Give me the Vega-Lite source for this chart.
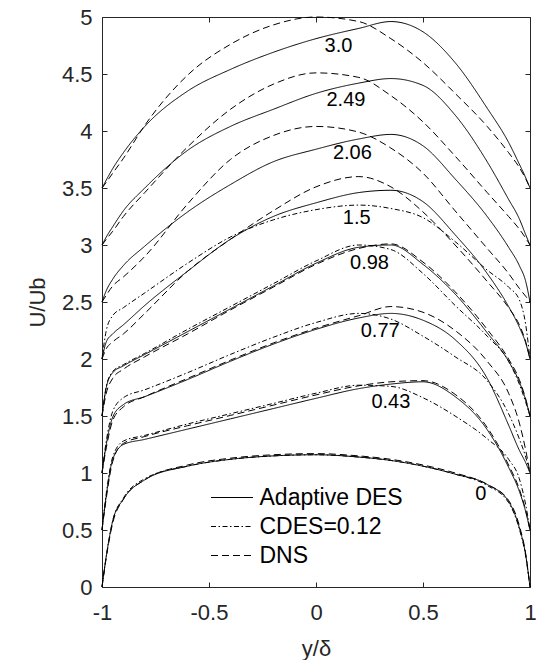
{
"$schema":"https://vega.github.io/schema/vega-lite/v6.json",
"autosize":{"type":"none"},
"width":428,"height":570,
"padding":{"left":102,"top":17,"right":10,"bottom":73},
"config":{"font":"Liberation Sans","view":{"stroke":"#262626","strokeWidth":1},
"axis":{"domainColor":"#262626","tickColor":"#262626","tickWidth":1,"labelColor":"#262626","titleColor":"#262626","labelFontSize":22,"titleFontSize":22,"titleFontWeight":"normal","grid":false,"tickSize":5,"offset":-5,"domain":false,"labelFlush":false,"labelOverlap":false,"labelFont":"Liberation Sans","titleFont":"Liberation Sans"}},
"datasets":{
"labels":[{"t":"3.0","x":0.105,"y":4.75},{"t":"2.49","x":0.14,"y":4.27},{"t":"2.06","x":0.17,"y":3.81},{"t":"1.5","x":0.19,"y":3.24},{"t":"0.98","x":0.25,"y":2.84},{"t":"0.77","x":0.3,"y":2.25},{"t":"0.43","x":0.35,"y":1.62},{"t":"0","x":0.77,"y":0.82}],
"curves":[
{"p":"0","m":"A","x":-1,"y":0},{"p":"0","m":"A","x":-0.98,"y":0.27},{"p":"0","m":"A","x":-0.95,"y":0.58},{"p":"0","m":"A","x":-0.9,"y":0.77},{"p":"0","m":"A","x":-0.8,"y":0.94},{"p":"0","m":"A","x":-0.6,"y":1.06},{"p":"0","m":"A","x":-0.4,"y":1.12},{"p":"0","m":"A","x":-0.2,"y":1.15},{"p":"0","m":"A","x":0,"y":1.16},{"p":"0","m":"A","x":0.2,"y":1.14},{"p":"0","m":"A","x":0.35,"y":1.11},{"p":"0","m":"A","x":0.5,"y":1.06},{"p":"0","m":"A","x":0.65,"y":0.99},{"p":"0","m":"A","x":0.8,"y":0.9},{"p":"0","m":"A","x":0.9,"y":0.75},{"p":"0","m":"A","x":0.95,"y":0.52},{"p":"0","m":"A","x":0.98,"y":0.28},{"p":"0","m":"A","x":1,"y":0},
{"p":"0","m":"D","x":-1,"y":0},{"p":"0","m":"D","x":-0.98,"y":0.26},{"p":"0","m":"D","x":-0.95,"y":0.56},{"p":"0","m":"D","x":-0.9,"y":0.77},{"p":"0","m":"D","x":-0.8,"y":0.94},{"p":"0","m":"D","x":-0.6,"y":1.07},{"p":"0","m":"D","x":-0.4,"y":1.13},{"p":"0","m":"D","x":-0.2,"y":1.16},{"p":"0","m":"D","x":0,"y":1.17},{"p":"0","m":"D","x":0.2,"y":1.15},{"p":"0","m":"D","x":0.35,"y":1.12},{"p":"0","m":"D","x":0.5,"y":1.07},{"p":"0","m":"D","x":0.65,"y":1.0},{"p":"0","m":"D","x":0.8,"y":0.9},{"p":"0","m":"D","x":0.9,"y":0.76},{"p":"0","m":"D","x":0.95,"y":0.54},{"p":"0","m":"D","x":0.98,"y":0.29},{"p":"0","m":"D","x":1,"y":0},
{"p":"0","m":"C","x":-1,"y":0},{"p":"0","m":"C","x":-0.98,"y":0.27},{"p":"0","m":"C","x":-0.95,"y":0.58},{"p":"0","m":"C","x":-0.9,"y":0.78},{"p":"0","m":"C","x":-0.8,"y":0.95},{"p":"0","m":"C","x":-0.6,"y":1.06},{"p":"0","m":"C","x":-0.4,"y":1.12},{"p":"0","m":"C","x":-0.2,"y":1.15},{"p":"0","m":"C","x":0,"y":1.16},{"p":"0","m":"C","x":0.2,"y":1.14},{"p":"0","m":"C","x":0.35,"y":1.11},{"p":"0","m":"C","x":0.5,"y":1.06},{"p":"0","m":"C","x":0.65,"y":0.99},{"p":"0","m":"C","x":0.8,"y":0.89},{"p":"0","m":"C","x":0.9,"y":0.74},{"p":"0","m":"C","x":0.95,"y":0.51},{"p":"0","m":"C","x":0.98,"y":0.27},{"p":"0","m":"C","x":1,"y":0},
{"p":"0.43","m":"A","x":-1,"y":0.5},{"p":"0.43","m":"A","x":-0.98,"y":0.8},{"p":"0.43","m":"A","x":-0.95,"y":1.12},{"p":"0.43","m":"A","x":-0.9,"y":1.25},{"p":"0.43","m":"A","x":-0.8,"y":1.295},{"p":"0.43","m":"A","x":-0.6,"y":1.385},{"p":"0.43","m":"A","x":-0.4,"y":1.475},{"p":"0.43","m":"A","x":-0.2,"y":1.565},{"p":"0.43","m":"A","x":0,"y":1.655},{"p":"0.43","m":"A","x":0.2,"y":1.74},{"p":"0.43","m":"A","x":0.35,"y":1.78},{"p":"0.43","m":"A","x":0.5,"y":1.8},{"p":"0.43","m":"A","x":0.65,"y":1.67},{"p":"0.43","m":"A","x":0.8,"y":1.38},{"p":"0.43","m":"A","x":0.9,"y":1.05},{"p":"0.43","m":"A","x":0.95,"y":0.84},{"p":"0.43","m":"A","x":0.98,"y":0.66},{"p":"0.43","m":"A","x":1,"y":0.5},
{"p":"0.43","m":"D","x":-1,"y":0.5},{"p":"0.43","m":"D","x":-0.98,"y":0.78},{"p":"0.43","m":"D","x":-0.95,"y":1.1},{"p":"0.43","m":"D","x":-0.9,"y":1.26},{"p":"0.43","m":"D","x":-0.8,"y":1.32},{"p":"0.43","m":"D","x":-0.6,"y":1.415},{"p":"0.43","m":"D","x":-0.4,"y":1.505},{"p":"0.43","m":"D","x":-0.2,"y":1.595},{"p":"0.43","m":"D","x":0,"y":1.685},{"p":"0.43","m":"D","x":0.2,"y":1.765},{"p":"0.43","m":"D","x":0.35,"y":1.8},{"p":"0.43","m":"D","x":0.5,"y":1.81},{"p":"0.43","m":"D","x":0.65,"y":1.69},{"p":"0.43","m":"D","x":0.8,"y":1.4},{"p":"0.43","m":"D","x":0.9,"y":1.07},{"p":"0.43","m":"D","x":0.95,"y":0.86},{"p":"0.43","m":"D","x":0.98,"y":0.67},{"p":"0.43","m":"D","x":1,"y":0.5},
{"p":"0.43","m":"C","x":-1,"y":0.5},{"p":"0.43","m":"C","x":-0.98,"y":0.82},{"p":"0.43","m":"C","x":-0.95,"y":1.14},{"p":"0.43","m":"C","x":-0.9,"y":1.28},{"p":"0.43","m":"C","x":-0.8,"y":1.33},{"p":"0.43","m":"C","x":-0.6,"y":1.43},{"p":"0.43","m":"C","x":-0.4,"y":1.52},{"p":"0.43","m":"C","x":-0.2,"y":1.61},{"p":"0.43","m":"C","x":0,"y":1.7},{"p":"0.43","m":"C","x":0.2,"y":1.77},{"p":"0.43","m":"C","x":0.35,"y":1.76},{"p":"0.43","m":"C","x":0.5,"y":1.66},{"p":"0.43","m":"C","x":0.65,"y":1.5},{"p":"0.43","m":"C","x":0.8,"y":1.3},{"p":"0.43","m":"C","x":0.9,"y":1.12},{"p":"0.43","m":"C","x":0.95,"y":0.95},{"p":"0.43","m":"C","x":0.98,"y":0.72},{"p":"0.43","m":"C","x":1,"y":0.5},
{"p":"0.77","m":"A","x":-1,"y":1.0},{"p":"0.77","m":"A","x":-0.98,"y":1.25},{"p":"0.77","m":"A","x":-0.95,"y":1.49},{"p":"0.77","m":"A","x":-0.9,"y":1.6},{"p":"0.77","m":"A","x":-0.8,"y":1.67},{"p":"0.77","m":"A","x":-0.6,"y":1.82},{"p":"0.77","m":"A","x":-0.4,"y":1.98},{"p":"0.77","m":"A","x":-0.2,"y":2.13},{"p":"0.77","m":"A","x":0,"y":2.26},{"p":"0.77","m":"A","x":0.2,"y":2.36},{"p":"0.77","m":"A","x":0.35,"y":2.4},{"p":"0.77","m":"A","x":0.5,"y":2.34},{"p":"0.77","m":"A","x":0.65,"y":2.17},{"p":"0.77","m":"A","x":0.8,"y":1.83},{"p":"0.77","m":"A","x":0.9,"y":1.42},{"p":"0.77","m":"A","x":0.95,"y":1.2},{"p":"0.77","m":"A","x":0.98,"y":1.09},{"p":"0.77","m":"A","x":1,"y":1.0},
{"p":"0.77","m":"D","x":-1,"y":1.0},{"p":"0.77","m":"D","x":-0.98,"y":1.22},{"p":"0.77","m":"D","x":-0.95,"y":1.46},{"p":"0.77","m":"D","x":-0.9,"y":1.58},{"p":"0.77","m":"D","x":-0.8,"y":1.67},{"p":"0.77","m":"D","x":-0.6,"y":1.83},{"p":"0.77","m":"D","x":-0.4,"y":1.99},{"p":"0.77","m":"D","x":-0.2,"y":2.14},{"p":"0.77","m":"D","x":0,"y":2.27},{"p":"0.77","m":"D","x":0.2,"y":2.38},{"p":"0.77","m":"D","x":0.35,"y":2.46},{"p":"0.77","m":"D","x":0.5,"y":2.41},{"p":"0.77","m":"D","x":0.65,"y":2.25},{"p":"0.77","m":"D","x":0.8,"y":1.98},{"p":"0.77","m":"D","x":0.9,"y":1.7},{"p":"0.77","m":"D","x":0.95,"y":1.44},{"p":"0.77","m":"D","x":0.98,"y":1.2},{"p":"0.77","m":"D","x":1,"y":1.0},
{"p":"0.77","m":"C","x":-1,"y":1.0},{"p":"0.77","m":"C","x":-0.98,"y":1.28},{"p":"0.77","m":"C","x":-0.95,"y":1.54},{"p":"0.77","m":"C","x":-0.9,"y":1.66},{"p":"0.77","m":"C","x":-0.8,"y":1.73},{"p":"0.77","m":"C","x":-0.6,"y":1.88},{"p":"0.77","m":"C","x":-0.4,"y":2.04},{"p":"0.77","m":"C","x":-0.2,"y":2.19},{"p":"0.77","m":"C","x":0,"y":2.32},{"p":"0.77","m":"C","x":0.2,"y":2.4},{"p":"0.77","m":"C","x":0.35,"y":2.35},{"p":"0.77","m":"C","x":0.5,"y":2.2},{"p":"0.77","m":"C","x":0.65,"y":2.02},{"p":"0.77","m":"C","x":0.8,"y":1.81},{"p":"0.77","m":"C","x":0.9,"y":1.52},{"p":"0.77","m":"C","x":0.95,"y":1.3},{"p":"0.77","m":"C","x":0.98,"y":1.14},{"p":"0.77","m":"C","x":1,"y":1.0},
{"p":"0.98","m":"A","x":-1,"y":1.5},{"p":"0.98","m":"A","x":-0.98,"y":1.75},{"p":"0.98","m":"A","x":-0.95,"y":1.88},{"p":"0.98","m":"A","x":-0.9,"y":1.94},{"p":"0.98","m":"A","x":-0.8,"y":2.04},{"p":"0.98","m":"A","x":-0.6,"y":2.24},{"p":"0.98","m":"A","x":-0.4,"y":2.44},{"p":"0.98","m":"A","x":-0.2,"y":2.64},{"p":"0.98","m":"A","x":0,"y":2.84},{"p":"0.98","m":"A","x":0.2,"y":2.98},{"p":"0.98","m":"A","x":0.35,"y":3.0},{"p":"0.98","m":"A","x":0.5,"y":2.83},{"p":"0.98","m":"A","x":0.65,"y":2.57},{"p":"0.98","m":"A","x":0.8,"y":2.23},{"p":"0.98","m":"A","x":0.9,"y":1.98},{"p":"0.98","m":"A","x":0.95,"y":1.8},{"p":"0.98","m":"A","x":0.98,"y":1.64},{"p":"0.98","m":"A","x":1,"y":1.5},
{"p":"0.98","m":"D","x":-1,"y":1.5},{"p":"0.98","m":"D","x":-0.98,"y":1.7},{"p":"0.98","m":"D","x":-0.95,"y":1.83},{"p":"0.98","m":"D","x":-0.9,"y":1.91},{"p":"0.98","m":"D","x":-0.8,"y":2.02},{"p":"0.98","m":"D","x":-0.6,"y":2.22},{"p":"0.98","m":"D","x":-0.4,"y":2.43},{"p":"0.98","m":"D","x":-0.2,"y":2.63},{"p":"0.98","m":"D","x":0,"y":2.83},{"p":"0.98","m":"D","x":0.2,"y":2.97},{"p":"0.98","m":"D","x":0.35,"y":3.01},{"p":"0.98","m":"D","x":0.5,"y":2.85},{"p":"0.98","m":"D","x":0.65,"y":2.59},{"p":"0.98","m":"D","x":0.8,"y":2.26},{"p":"0.98","m":"D","x":0.9,"y":2.0},{"p":"0.98","m":"D","x":0.95,"y":1.82},{"p":"0.98","m":"D","x":0.98,"y":1.65},{"p":"0.98","m":"D","x":1,"y":1.5},
{"p":"0.98","m":"C","x":-1,"y":1.5},{"p":"0.98","m":"C","x":-0.98,"y":1.76},{"p":"0.98","m":"C","x":-0.95,"y":1.89},{"p":"0.98","m":"C","x":-0.9,"y":1.95},{"p":"0.98","m":"C","x":-0.8,"y":2.05},{"p":"0.98","m":"C","x":-0.6,"y":2.26},{"p":"0.98","m":"C","x":-0.4,"y":2.46},{"p":"0.98","m":"C","x":-0.2,"y":2.66},{"p":"0.98","m":"C","x":0,"y":2.86},{"p":"0.98","m":"C","x":0.2,"y":3.0},{"p":"0.98","m":"C","x":0.35,"y":2.96},{"p":"0.98","m":"C","x":0.5,"y":2.75},{"p":"0.98","m":"C","x":0.65,"y":2.47},{"p":"0.98","m":"C","x":0.8,"y":2.2},{"p":"0.98","m":"C","x":0.9,"y":1.98},{"p":"0.98","m":"C","x":0.95,"y":1.78},{"p":"0.98","m":"C","x":0.98,"y":1.62},{"p":"0.98","m":"C","x":1,"y":1.5},
{"p":"1.5","m":"A","x":-1,"y":2.0},{"p":"1.5","m":"A","x":-0.98,"y":2.15},{"p":"1.5","m":"A","x":-0.95,"y":2.22},{"p":"1.5","m":"A","x":-0.9,"y":2.3},{"p":"1.5","m":"A","x":-0.8,"y":2.47},{"p":"1.5","m":"A","x":-0.6,"y":2.77},{"p":"1.5","m":"A","x":-0.4,"y":3.05},{"p":"1.5","m":"A","x":-0.2,"y":3.25},{"p":"1.5","m":"A","x":0,"y":3.37},{"p":"1.5","m":"A","x":0.2,"y":3.46},{"p":"1.5","m":"A","x":0.35,"y":3.48},{"p":"1.5","m":"A","x":0.5,"y":3.38},{"p":"1.5","m":"A","x":0.65,"y":3.09},{"p":"1.5","m":"A","x":0.8,"y":2.75},{"p":"1.5","m":"A","x":0.9,"y":2.46},{"p":"1.5","m":"A","x":0.95,"y":2.28},{"p":"1.5","m":"A","x":0.98,"y":2.14},{"p":"1.5","m":"A","x":1,"y":2.0},
{"p":"1.5","m":"D","x":-1,"y":2.0},{"p":"1.5","m":"D","x":-0.98,"y":2.09},{"p":"1.5","m":"D","x":-0.95,"y":2.15},{"p":"1.5","m":"D","x":-0.9,"y":2.22},{"p":"1.5","m":"D","x":-0.8,"y":2.4},{"p":"1.5","m":"D","x":-0.6,"y":2.77},{"p":"1.5","m":"D","x":-0.4,"y":3.05},{"p":"1.5","m":"D","x":-0.2,"y":3.3},{"p":"1.5","m":"D","x":0,"y":3.51},{"p":"1.5","m":"D","x":0.2,"y":3.6},{"p":"1.5","m":"D","x":0.35,"y":3.51},{"p":"1.5","m":"D","x":0.5,"y":3.29},{"p":"1.5","m":"D","x":0.65,"y":3.0},{"p":"1.5","m":"D","x":0.8,"y":2.68},{"p":"1.5","m":"D","x":0.9,"y":2.45},{"p":"1.5","m":"D","x":0.95,"y":2.3},{"p":"1.5","m":"D","x":0.98,"y":2.15},{"p":"1.5","m":"D","x":1,"y":2.0},
{"p":"1.5","m":"C","x":-1,"y":2.0},{"p":"1.5","m":"C","x":-0.98,"y":2.25},{"p":"1.5","m":"C","x":-0.95,"y":2.38},{"p":"1.5","m":"C","x":-0.9,"y":2.45},{"p":"1.5","m":"C","x":-0.8,"y":2.58},{"p":"1.5","m":"C","x":-0.6,"y":2.84},{"p":"1.5","m":"C","x":-0.4,"y":3.07},{"p":"1.5","m":"C","x":-0.2,"y":3.22},{"p":"1.5","m":"C","x":0,"y":3.31},{"p":"1.5","m":"C","x":0.2,"y":3.35},{"p":"1.5","m":"C","x":0.35,"y":3.32},{"p":"1.5","m":"C","x":0.5,"y":3.24},{"p":"1.5","m":"C","x":0.65,"y":3.03},{"p":"1.5","m":"C","x":0.8,"y":2.78},{"p":"1.5","m":"C","x":0.9,"y":2.63},{"p":"1.5","m":"C","x":0.95,"y":2.52},{"p":"1.5","m":"C","x":0.98,"y":2.3},{"p":"1.5","m":"C","x":1,"y":2.0},
{"p":"2.06","m":"A","x":-1,"y":2.5},{"p":"2.06","m":"A","x":-0.98,"y":2.6},{"p":"2.06","m":"A","x":-0.95,"y":2.7},{"p":"2.06","m":"A","x":-0.9,"y":2.82},{"p":"2.06","m":"A","x":-0.8,"y":2.99},{"p":"2.06","m":"A","x":-0.6,"y":3.29},{"p":"2.06","m":"A","x":-0.4,"y":3.53},{"p":"2.06","m":"A","x":-0.2,"y":3.73},{"p":"2.06","m":"A","x":0,"y":3.84},{"p":"2.06","m":"A","x":0.2,"y":3.93},{"p":"2.06","m":"A","x":0.35,"y":3.97},{"p":"2.06","m":"A","x":0.5,"y":3.87},{"p":"2.06","m":"A","x":0.65,"y":3.58},{"p":"2.06","m":"A","x":0.8,"y":3.25},{"p":"2.06","m":"A","x":0.9,"y":2.98},{"p":"2.06","m":"A","x":0.95,"y":2.82},{"p":"2.06","m":"A","x":0.98,"y":2.68},{"p":"2.06","m":"A","x":1,"y":2.5},
{"p":"2.06","m":"D","x":-1,"y":2.5},{"p":"2.06","m":"D","x":-0.98,"y":2.56},{"p":"2.06","m":"D","x":-0.95,"y":2.64},{"p":"2.06","m":"D","x":-0.9,"y":2.72},{"p":"2.06","m":"D","x":-0.8,"y":2.9},{"p":"2.06","m":"D","x":-0.6,"y":3.36},{"p":"2.06","m":"D","x":-0.4,"y":3.75},{"p":"2.06","m":"D","x":-0.2,"y":3.96},{"p":"2.06","m":"D","x":0,"y":4.04},{"p":"2.06","m":"D","x":0.2,"y":3.99},{"p":"2.06","m":"D","x":0.35,"y":3.85},{"p":"2.06","m":"D","x":0.5,"y":3.63},{"p":"2.06","m":"D","x":0.65,"y":3.3},{"p":"2.06","m":"D","x":0.8,"y":2.97},{"p":"2.06","m":"D","x":0.9,"y":2.75},{"p":"2.06","m":"D","x":0.95,"y":2.62},{"p":"2.06","m":"D","x":0.98,"y":2.55},{"p":"2.06","m":"D","x":1,"y":2.5},
{"p":"2.49","m":"A","x":-1,"y":3.0},{"p":"2.49","m":"A","x":-0.98,"y":3.07},{"p":"2.49","m":"A","x":-0.95,"y":3.16},{"p":"2.49","m":"A","x":-0.9,"y":3.3},{"p":"2.49","m":"A","x":-0.8,"y":3.5},{"p":"2.49","m":"A","x":-0.6,"y":3.83},{"p":"2.49","m":"A","x":-0.4,"y":4.04},{"p":"2.49","m":"A","x":-0.2,"y":4.19},{"p":"2.49","m":"A","x":0,"y":4.33},{"p":"2.49","m":"A","x":0.2,"y":4.42},{"p":"2.49","m":"A","x":0.35,"y":4.46},{"p":"2.49","m":"A","x":0.5,"y":4.4},{"p":"2.49","m":"A","x":0.65,"y":4.14},{"p":"2.49","m":"A","x":0.8,"y":3.73},{"p":"2.49","m":"A","x":0.9,"y":3.4},{"p":"2.49","m":"A","x":0.95,"y":3.23},{"p":"2.49","m":"A","x":0.98,"y":3.09},{"p":"2.49","m":"A","x":1,"y":3.0},
{"p":"2.49","m":"D","x":-1,"y":3.0},{"p":"2.49","m":"D","x":-0.98,"y":3.05},{"p":"2.49","m":"D","x":-0.95,"y":3.12},{"p":"2.49","m":"D","x":-0.9,"y":3.25},{"p":"2.49","m":"D","x":-0.8,"y":3.46},{"p":"2.49","m":"D","x":-0.6,"y":3.86},{"p":"2.49","m":"D","x":-0.4,"y":4.19},{"p":"2.49","m":"D","x":-0.2,"y":4.41},{"p":"2.49","m":"D","x":0,"y":4.51},{"p":"2.49","m":"D","x":0.2,"y":4.47},{"p":"2.49","m":"D","x":0.35,"y":4.31},{"p":"2.49","m":"D","x":0.5,"y":4.08},{"p":"2.49","m":"D","x":0.65,"y":3.78},{"p":"2.49","m":"D","x":0.8,"y":3.46},{"p":"2.49","m":"D","x":0.9,"y":3.25},{"p":"2.49","m":"D","x":0.95,"y":3.14},{"p":"2.49","m":"D","x":0.98,"y":3.06},{"p":"2.49","m":"D","x":1,"y":3.0},
{"p":"3.0","m":"A","x":-1,"y":3.5},{"p":"3.0","m":"A","x":-0.98,"y":3.57},{"p":"3.0","m":"A","x":-0.95,"y":3.67},{"p":"3.0","m":"A","x":-0.9,"y":3.81},{"p":"3.0","m":"A","x":-0.8,"y":4.04},{"p":"3.0","m":"A","x":-0.6,"y":4.35},{"p":"3.0","m":"A","x":-0.4,"y":4.54},{"p":"3.0","m":"A","x":-0.2,"y":4.69},{"p":"3.0","m":"A","x":0,"y":4.81},{"p":"3.0","m":"A","x":0.2,"y":4.9},{"p":"3.0","m":"A","x":0.35,"y":4.96},{"p":"3.0","m":"A","x":0.5,"y":4.87},{"p":"3.0","m":"A","x":0.65,"y":4.6},{"p":"3.0","m":"A","x":0.8,"y":4.2},{"p":"3.0","m":"A","x":0.9,"y":3.9},{"p":"3.0","m":"A","x":0.95,"y":3.71},{"p":"3.0","m":"A","x":0.98,"y":3.59},{"p":"3.0","m":"A","x":1,"y":3.5},
{"p":"3.0","m":"D","x":-1,"y":3.5},{"p":"3.0","m":"D","x":-0.98,"y":3.55},{"p":"3.0","m":"D","x":-0.95,"y":3.63},{"p":"3.0","m":"D","x":-0.9,"y":3.76},{"p":"3.0","m":"D","x":-0.8,"y":4.05},{"p":"3.0","m":"D","x":-0.6,"y":4.49},{"p":"3.0","m":"D","x":-0.4,"y":4.76},{"p":"3.0","m":"D","x":-0.2,"y":4.93},{"p":"3.0","m":"D","x":0,"y":5.0},{"p":"3.0","m":"D","x":0.2,"y":4.96},{"p":"3.0","m":"D","x":0.35,"y":4.81},{"p":"3.0","m":"D","x":0.5,"y":4.6},{"p":"3.0","m":"D","x":0.65,"y":4.33},{"p":"3.0","m":"D","x":0.8,"y":4.04},{"p":"3.0","m":"D","x":0.9,"y":3.81},{"p":"3.0","m":"D","x":0.95,"y":3.68},{"p":"3.0","m":"D","x":0.98,"y":3.58},{"p":"3.0","m":"D","x":1,"y":3.5}
]},
"layer":[
{"data":{"name":"curves"},
"mark":{"type":"line","interpolate":"monotone","strokeWidth":1,"color":"black"},
"encoding":{
"x":{"field":"x","type":"quantitative","scale":{"domain":[-1,1]},"axis":{"orient":"bottom","values":[-1,-0.5,0,0.5,1],"labelExpr":"'' + datum.value","title":"y/δ","labelPadding":15,"titlePadding":15}},
"y":{"field":"y","type":"quantitative","scale":{"domain":[0,5]},"axis":{"orient":"left","values":[0,0.5,1,1.5,2,2.5,3,3.5,4,4.5,5],"labelExpr":"'' + datum.value","title":"U/Ub","labelPadding":10,"titlePadding":12}},
"detail":{"field":"p","type":"nominal"},
"strokeDash":{"field":"m","type":"nominal","scale":{"domain":["A","C","D"],"range":[[1,0],[5,2.5,1.5,2.5],[7,4]]},
"legend":{"orient":"none","legendX":118.5,"legendY":469,"title":null,"symbolType":"M-2,0H2","symbolSize":441,"symbolStrokeWidth":1,"symbolStrokeColor":"black","symbolFillColor":"transparent","labelFontSize":23,"labelColor":"black","labelFont":"Liberation Sans","rowPadding":5,"labelOffset":16,"labelExpr":"datum.label == 'A' ? 'Adaptive DES' : datum.label == 'C' ? 'CDES=0.12' : 'DNS'"}}
}},
{"data":{"name":"labels"},
"mark":{"type":"text","fontSize":20,"font":"Liberation Sans","color":"black","align":"center","baseline":"middle"},
"encoding":{
"x":{"field":"x","type":"quantitative","scale":{"domain":[-1,1]},"axis":{"orient":"top","values":[-1,-0.5,0,0.5,1],"labels":false,"title":null}},
"y":{"field":"y","type":"quantitative","scale":{"domain":[0,5]},"axis":{"orient":"right","values":[0,0.5,1,1.5,2,2.5,3,3.5,4,4.5,5],"labels":false,"title":null}},
"text":{"field":"t"}
}}
],
"resolve":{"axis":{"x":"independent","y":"independent"}}
}
